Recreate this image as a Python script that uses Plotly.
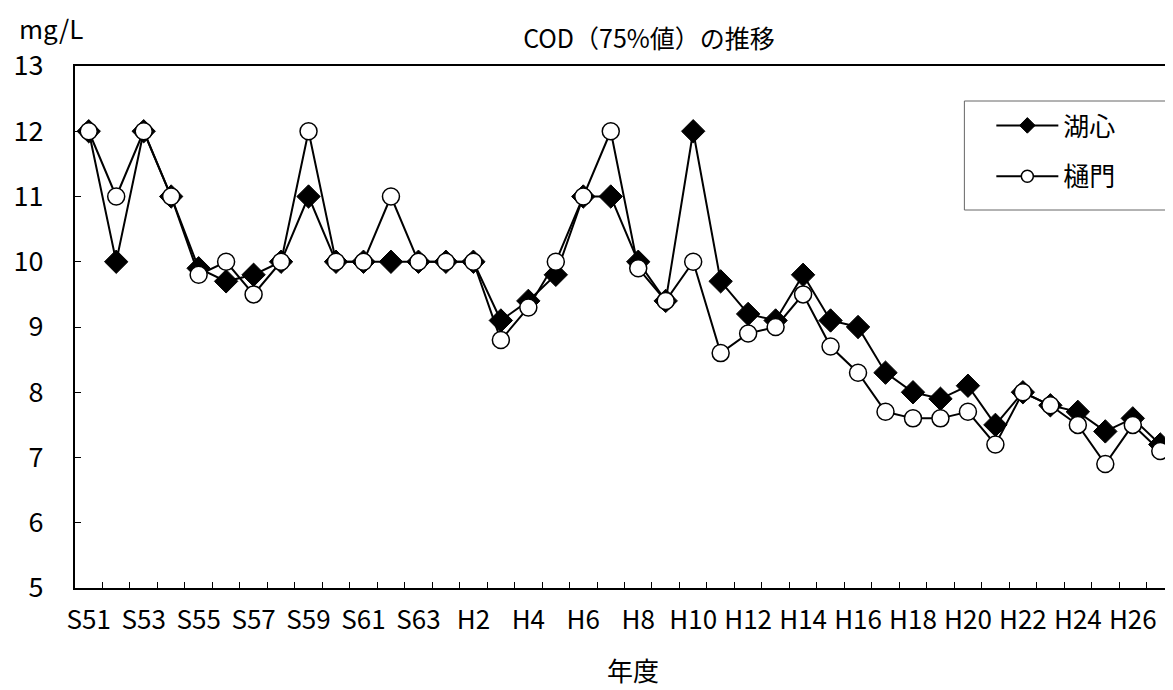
import plotly.graph_objects as go

years = ["S51","S52","S53","S54","S55","S56","S57","S58","S59","S60","S61","S62","S63",
         "H1","H2","H3","H4","H5","H6","H7","H8","H9","H10","H11","H12","H13","H14","H15",
         "H16","H17","H18","H19","H20","H21","H22","H23","H24","H25","H26","H27"]
koshin = [12,10,12,11,9.9,9.7,9.8,10,11,10,10,10,10,
          10,10,9.1,9.4,9.8,11,11,10,9.4,12,9.7,9.2,9.1,9.8,9.1,
          9.0,8.3,8.0,7.9,8.1,7.5,8.0,7.8,7.7,7.4,7.6,7.2]
himon = [12,11,12,11,9.8,10,9.5,10,12,10,10,11,10,
         10,10,8.8,9.3,10,11,12,9.9,9.4,10,8.6,8.9,9.0,9.5,8.7,
         8.3,7.7,7.6,7.6,7.7,7.2,8.0,7.8,7.5,6.9,7.5,7.1]

idx = list(range(len(years)))
JP = "Noto Sans CJK JP"

W, H = 1173, 690
L, R, T, B = 67, 5, 58, 110
PW, PH = W - L - R, H - T - B

def px(x):
    return (x - L) / PW

def py(y):
    return (H - B - y) / PH

series = [
    ("湖心", koshin, dict(symbol="diamond", color="black", line=dict(color="black", width=1)), 18, 12),
    ("樋門", himon, dict(symbol="circle", color="white", line=dict(color="black", width=1.5)), 17, 12),
]

fig = go.Figure()
for name, vals, mk, size, lsize in series:
    fig.add_trace(go.Scatter(
        x=idx, y=vals, name=name, mode="lines+markers", legendgroup=name,
        showlegend=False, line=dict(color="black", width=2),
        marker=dict(size=size, **mk),
    ))
    # legend entry (smaller symbol, like the reference legend); draws no data
    fig.add_trace(go.Scatter(
        x=[None], y=[None], name=name, mode="lines+markers", legendgroup=name,
        showlegend=True, line=dict(color="black", width=2),
        marker=dict(size=lsize, **mk),
    ))

fig.update_layout(
    width=W, height=H,
    margin=dict(l=L, r=R, t=T, b=B),
    paper_bgcolor="white", plot_bgcolor="white",
    font=dict(family=JP, size=26, color="black"),
    title=dict(text="COD（75%値）の推移", x=641 / W, xref="container", xanchor="center",
               y=1 - 31 / H, yanchor="middle", font=dict(size=25, family=JP)),
    showlegend=True,
    legend=dict(x=px(985), y=py(94), xanchor="left", yanchor="top",
                bgcolor="rgba(0,0,0,0)", borderwidth=0,
                font=dict(size=26, family=JP), tracegroupgap=14,
                traceorder="grouped", itemwidth=62, itemsizing="trace"),
    xaxis=dict(
        range=[-0.5, len(years) - 0.5],
        tickmode="array", tickvals=idx[::2], ticktext=years[::2],
        ticks="", showgrid=False, zeroline=False,
        showline=True, linewidth=2, linecolor="black", mirror=True,
        tickfont=dict(size=26, family=JP), ticklabelstandoff=8,
        minor=dict(tickvals=[i + 0.5 for i in idx[:-1]], ticks="inside",
                   ticklen=6, tickcolor="black", tickwidth=1, showgrid=False),
    ),
    yaxis=dict(
        range=[5, 13], dtick=1, tick0=5,
        ticks="inside", ticklen=6, tickcolor="black", tickwidth=1,
        showgrid=False, zeroline=False,
        showline=True, linewidth=2, linecolor="black", mirror=True,
        tickfont=dict(size=27, family=JP), ticklabelstandoff=24,
    ),
    shapes=[dict(type="rect", xref="paper", yref="paper",
                 x0=px(958), x1=px(1160), y0=py(202), y1=py(93),
                 line=dict(color="#666666", width=1), fillcolor="rgba(0,0,0,0)",
                 layer="below")],
    annotations=[
        dict(text="mg/L", xref="paper", yref="paper", x=px(9), y=py(19),
             xanchor="left", yanchor="middle", showarrow=False,
             font=dict(size=26, family=JP)),
        dict(text="年度", xref="paper", yref="paper", x=px(626), y=py(661),
             xanchor="center", yanchor="middle", showarrow=False,
             font=dict(size=26, family=JP)),
    ],
)

fig.write_html("out.html")
